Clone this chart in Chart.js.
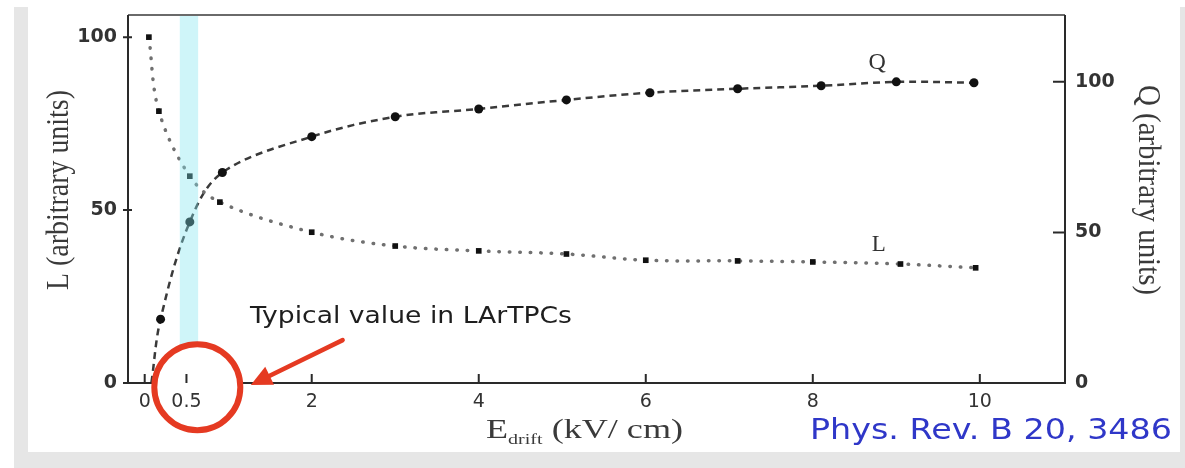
<!DOCTYPE html>
<html>
<head>
<meta charset="utf-8">
<script src="https://cdn.jsdelivr.net/npm/chart.js@4"></script>
<style>
  body { margin: 0; background: #fff; }
  #frame { position: absolute; left: 14px; top: 7px; width: 1171px; height: 461px; background: #e6e6e6; }
  #panel { position: absolute; left: 28px; top: 7px; width: 1152px; height: 445px; background: #fff; }
  #chart { position: absolute; left: 0; top: 0; }
</style>
</head>
<body>
<div id="frame"></div>
<div id="panel"></div>
<canvas id="chart" width="1185" height="468"></canvas>
<script>
// scintillation light L vs drift field
const fieldL = [0.05, 0.17, 0.54, 0.9, 2, 3, 4, 5.05, 6, 7.1, 8, 9.05, 9.95];
const lightL = [100, 78.6, 59.8, 52.3, 43.6, 39.6, 38.2, 37.3, 35.5, 35.3, 35, 34.4, 33.3];
// collected charge Q vs drift field
const fieldQ = [0.19, 0.54, 0.93, 2, 3, 4, 5.05, 6.05, 7.1, 8.1, 9, 9.93];
const chargeQ = [21.2, 53.5, 69.9, 81.8, 88.4, 91, 94, 96.4, 97.7, 98.7, 100, 99.7];
// the dashed Q fit leaves the axis here
const qCurveStart = { x: 0.08, y: 0 };

const xTicks = [0, 0.5, 2, 4, 6, 8, 10];
const yTicks = [0, 50, 100];
const typicalBand = [0.42, 0.64];   // kV/cm, usual LArTPC field

const RED = '#e53a22';

function toPoints(xs, ys) {
    return xs.map((x, i) => ({ x: x, y: ys[i] }));
}

// text squeezed/stretched so it fills a given length
function drawFitted(ctx, text, x, y, font, width, rot, across) {
    ctx.save();
    ctx.font = font;
    const k = width / ctx.measureText(text).width;
    ctx.translate(x, y);
    ctx.rotate(rot || 0);
    ctx.scale(k, across || 1);
    ctx.fillText(text, 0, 0);
    ctx.restore();
}

// keep the plot box exactly where it should be
function fixBox(size, horizontal) {
    return s => {
        if (horizontal) { s.height = size; s.paddingLeft = 0; s.paddingRight = 0; }
        else { s.width = size; s.paddingTop = 0; s.paddingBottom = 0; }
    };
}

const decor = {
    id: 'decor',
    afterDatasetsDraw(chart) {
        const { ctx, chartArea: a, scales: { x, yL, yQ } } = chart;
        ctx.save();

        // highlighted field range
        const b0 = x.getPixelForValue(typicalBand[0]);
        const b1 = x.getPixelForValue(typicalBand[1]);
        ctx.fillStyle = 'rgba(130, 228, 240, 0.38)';
        ctx.fillRect(b0, a.top, b1 - b0, a.bottom - a.top);

        // plot frame
        ctx.lineWidth = 2;
        ctx.strokeStyle = '#6a6a6a';
        ctx.beginPath(); ctx.moveTo(a.left, a.top); ctx.lineTo(a.right, a.top); ctx.stroke();
        ctx.strokeStyle = '#2a2a2a';
        ctx.beginPath();
        ctx.moveTo(a.left, a.top); ctx.lineTo(a.left, a.bottom); ctx.lineTo(a.right, a.bottom); ctx.lineTo(a.right, a.top);
        ctx.stroke();

        // white disc behind the red ring
        const cx = x.getPixelForValue(0.63), cy = yL.getPixelForValue(-1.2);
        ctx.fillStyle = '#fff';
        ctx.beginPath(); ctx.arc(cx, cy, 43, 0, Math.PI * 2); ctx.fill();

        // tick marks
        ctx.strokeStyle = '#2a2a2a';
        ctx.lineWidth = 2;
        ctx.beginPath();
        xTicks.forEach(v => {
            const px = x.getPixelForValue(v);
            ctx.moveTo(px, a.bottom); ctx.lineTo(px, a.bottom - 9);
        });
        yTicks.forEach(v => {
            const pl = yL.getPixelForValue(v);
            ctx.moveTo(a.left - 5, pl); ctx.lineTo(a.left + 4, pl);
            const pr = yQ.getPixelForValue(v);
            ctx.moveTo(a.right - 12, pr); ctx.lineTo(a.right, pr);
        });
        ctx.stroke();
        ctx.restore();
    },
    afterDraw(chart) {
        const { ctx, scales: { x, yL, yQ } } = chart;
        ctx.save();

        // red ring round 0.5 kV/cm
        const cx = x.getPixelForValue(0.63), cy = yL.getPixelForValue(-1.2);
        ctx.strokeStyle = RED;
        ctx.lineWidth = 6;
        ctx.beginPath(); ctx.arc(cx, cy, 43, 0, Math.PI * 2); ctx.stroke();

        // arrow pointing at the ring
        const ax0 = x.getPixelForValue(2.37), ay0 = yL.getPixelForValue(12.4);
        const ax1 = x.getPixelForValue(1.27), ay1 = yL.getPixelForValue(-0.6);
        const ang = Math.atan2(ay1 - ay0, ax1 - ax0);
        ctx.lineWidth = 4.5;
        ctx.lineCap = 'round';
        ctx.beginPath();
        ctx.moveTo(ax0, ay0);
        ctx.lineTo(ax1 - 12 * Math.cos(ang), ay1 - 12 * Math.sin(ang));
        ctx.stroke();
        ctx.fillStyle = RED;
        ctx.beginPath();
        ctx.moveTo(ax1, ay1);
        ctx.lineTo(ax1 - 21 * Math.cos(ang) + 10 * Math.sin(ang), ay1 - 21 * Math.sin(ang) - 10 * Math.cos(ang));
        ctx.lineTo(ax1 - 21 * Math.cos(ang) - 10 * Math.sin(ang), ay1 - 21 * Math.sin(ang) + 10 * Math.cos(ang));
        ctx.closePath();
        ctx.fill();

        // annotation text
        ctx.fillStyle = '#1e1e1e';
        ctx.textAlign = 'left';
        ctx.textBaseline = 'alphabetic';
        drawFitted(ctx, 'Typical value in LArTPCs', x.getPixelForValue(1.26), yL.getPixelForValue(17.3),
            '23px "DejaVu Sans"', 322);

        // curve names
        ctx.fillStyle = '#333';
        ctx.textAlign = 'center';
        ctx.textBaseline = 'middle';
        ctx.font = '24px "Liberation Serif"';
        ctx.fillText('Q', x.getPixelForValue(8.77), yQ.getPixelForValue(106.2));
        ctx.font = '23px "Liberation Serif"';
        ctx.fillText('L', x.getPixelForValue(8.79), yL.getPixelForValue(39.9));

        // axis titles
        ctx.fillStyle = '#3a3a3a';
        drawFitted(ctx, 'L (arbitrary units)', 59, 190, '25px "Liberation Serif"', 200, -Math.PI / 2, 1.3);
        drawFitted(ctx, 'Q (arbitrary units)', 1148, 190, '25px "Liberation Serif"', 210, Math.PI / 2, 1.3);

        // E_drift (kV/ cm)
        ctx.textAlign = 'left';
        ctx.textBaseline = 'alphabetic';
        const big = '27px "Liberation Serif"', small = '15px "Liberation Serif"';
        ctx.font = big;
        const wE = ctx.measureText('E').width;
        const wRest = ctx.measureText(' (kV/ cm)').width;
        ctx.font = small;
        const wSub = ctx.measureText('drift').width;
        const k = 197 / (wE + wSub + wRest);
        ctx.translate(486, 438);
        ctx.scale(k, 1);
        ctx.font = big; ctx.fillText('E', 0, 0);
        ctx.font = small; ctx.fillText('drift', wE, 6);
        ctx.font = big; ctx.fillText(' (kV/ cm)', wE + wSub, 0);
        ctx.setTransform(1, 0, 0, 1, 0, 0);

        // reference
        ctx.fillStyle = '#2f37c8';
        drawFitted(ctx, 'Phys. Rev. B 20, 3486', 810, 439, '29px "DejaVu Sans"', 362);
        ctx.restore();
    }
};

const qData = [qCurveStart].concat(toPoints(fieldQ, chargeQ));

new Chart(document.getElementById('chart'), {
    type: 'line',
    data: {
        datasets: [{
            label: 'L',
            data: toPoints(fieldL, lightL),
            yAxisID: 'yL',
            borderColor: '#707070',
            borderWidth: 3.5,
            borderDash: [0.5, 10],
            borderCapStyle: 'round',
            tension: 0.35,
            pointStyle: 'rect',
            pointRadius: 4,
            pointBorderWidth: 0,
            pointBackgroundColor: '#111'
        }, {
            label: 'Q',
            data: qData,
            yAxisID: 'yQ',
            borderColor: '#3a3a3a',
            borderWidth: 2.5,
            borderDash: [7, 5],
            tension: 0.35,
            pointStyle: 'circle',
            pointRadius: qData.map((p, i) => i === 0 ? 0 : 4.5),
            pointBorderWidth: 0,
            pointBackgroundColor: '#111'
        }]
    },
    options: {
        responsive: false,
        animation: false,
        layout: { padding: { top: 15, left: 0, right: 0, bottom: 0 } },
        plugins: { legend: { display: false }, tooltip: { enabled: false } },
        scales: {
            x: {
                type: 'linear',
                min: -0.2,
                max: 11.02,
                afterBuildTicks: s => { s.ticks = xTicks.map(v => ({ value: v })); },
                afterFit: fixBox(85, true),
                grid: { display: false, drawTicks: false },
                border: { display: false },
                ticks: {
                    z: 1,
                    padding: 8,
                    autoSkip: false,
                    maxRotation: 0,
                    color: '#333',
                    font: { family: 'DejaVu Sans', size: 19 },
                    callback: v => String(v)
                }
            },
            yL: {
                position: 'left',
                min: 0,
                max: 106.4,
                afterBuildTicks: s => { s.ticks = yTicks.map(v => ({ value: v })); },
                afterFit: fixBox(128, false),
                grid: { display: false, drawTicks: false },
                border: { display: false },
                ticks: {
                    padding: 11,
                    color: '#333',
                    font: { family: 'DejaVu Sans', size: 19, weight: 'bold' }
                }
            },
            yQ: {
                position: 'right',
                min: 0,
                max: 122.2,
                afterBuildTicks: s => { s.ticks = yTicks.map(v => ({ value: v })); },
                afterFit: fixBox(120, false),
                grid: { display: false, drawTicks: false },
                border: { display: false },
                ticks: {
                    padding: 10,
                    color: '#333',
                    font: { family: 'DejaVu Sans', size: 19, weight: 'bold' }
                }
            }
        }
    },
    plugins: [decor]
});
</script>
</body>
</html>
